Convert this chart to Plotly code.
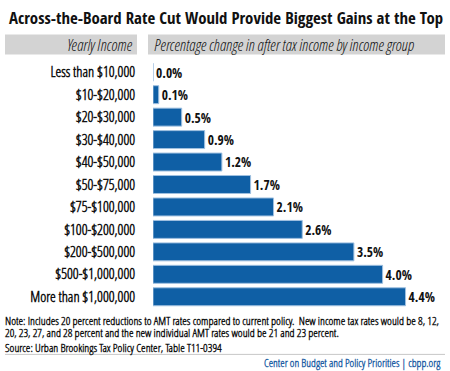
import plotly.graph_objects as go

categories = ["Less than $10,000", "$10-$20,000", "$20-$30,000", "$30-$40,000",
              "$40-$50,000", "$50-$75,000", "$75-$100,000", "$100-$200,000",
              "$200-$500,000", "$500-$1,000,000", "More than $1,000,000"]
values = [0.0, 0.1, 0.5, 0.9, 1.2, 1.7, 2.1, 2.6, 3.5, 4.0, 4.4]

title = "Across-the-Board Rate Cut Would Provide Biggest Gains at the Top"
header_left = "Yearly Income"
header_right = "Percentage change in after tax income by income group"
note_lines = ["Note: Includes 20 percent reductions to AMT rates compared to current policy.  New income tax rates would be 8, 12,",
              "20, 23, 27, and 28 percent and the new individual AMT rates would be 21 and 23 percent."]
source = "Source: Urban Brookings Tax Policy Center, Table T11-0394"
credit = "Center on Budget and Policy Priorities | cbpp.org"

BOLD = "Open Sans Condensed, Liberation Sans Narrow, sans-serif"
LIGHT = "Open Sans Condensed Light, Liberation Sans Narrow, sans-serif"
W, H = 450, 371
PW, PH, T, B = 297, 247.5, 60.5, 63


def py(ypx):
    """paper y from pixel y measured from top"""
    return (H - B - ypx) / PH


def px(xpx):
    return (xpx - 153) / PW


fig = go.Figure(go.Bar(
    x=values, y=categories, orientation="h",
    marker=dict(color="#0f5fa5", line=dict(color="#9fc0e0", width=1)),
    width=0.8,
    texttemplate="%{x:.1f}%", textposition="outside",
    textfont=dict(family=BOLD, size=15, color="#111111", weight="bold"),
    cliponaxis=False, hoverinfo="skip",
))

note_anns = [
    dict(text=line, xref="paper", yref="paper", align="left", borderpad=0,
         x=px(4), y=py(321.5 + i * 12), xanchor="left", yanchor="middle",
         showarrow=False, font=dict(family=LIGHT, size=11.6, color="#111111", weight="bold"))
    for i, line in enumerate(note_lines)
]

fig.update_layout(
    width=W, height=H,
    margin=dict(l=153, r=0, t=T, b=B, autoexpand=False),
    paper_bgcolor="white", plot_bgcolor="white",
    showlegend=False,
    font=dict(family=LIGHT, color="#111111"),
    xaxis=dict(range=[0, PW / 57.4], visible=False, fixedrange=True),
    yaxis=dict(autorange="reversed", showgrid=False, zeroline=False, showline=False,
               automargin=False, fixedrange=True,
               ticks="outside", ticklen=14, tickcolor="rgba(0,0,0,0)",
               tickfont=dict(family=LIGHT, size=14.6, color="#111111", weight="bold")),
    shapes=[
        dict(type="rect", xref="paper", yref="paper", layer="below",
             x0=px(5), x1=px(137), y0=py(54), y1=py(34),
             fillcolor="#d3d3d3", line=dict(width=0)),
        dict(type="rect", xref="paper", yref="paper", layer="below",
             x0=px(148), x1=px(445), y0=py(54), y1=py(34),
             fillcolor="#d3d3d3", line=dict(width=0)),
        dict(type="line", xref="paper", yref="paper",
             x0=px(5), x1=px(445), y0=py(354.5), y1=py(354.5),
             line=dict(color="#c8c8c8", width=1)),
    ],
    annotations=[
        dict(text=title, xref="paper", yref="paper",
             x=px(7), y=py(17), xanchor="left", yanchor="middle",
             showarrow=False, font=dict(family=BOLD, size=16.8, color="#111111", weight="bold")),
        dict(text=header_left, xref="paper", yref="paper",
             x=px(134), y=py(44), xanchor="right", yanchor="middle",
             showarrow=False, font=dict(family=LIGHT, size=16, color="#111111", style="italic")),
        dict(text=header_right, xref="paper", yref="paper",
             x=px(152), y=py(44), xanchor="left", yanchor="middle",
             showarrow=False, font=dict(family=LIGHT, size=16, color="#111111", style="italic")),
        *note_anns,
        dict(text=source, xref="paper", yref="paper", align="left", borderpad=0,
             x=px(4), y=py(348), xanchor="left", yanchor="middle",
             showarrow=False, font=dict(family=LIGHT, size=11.6, color="#111111", weight="bold")),
        dict(text=credit, xref="paper", yref="paper", align="right",
             x=px(443), y=py(363.5), xanchor="right", yanchor="middle",
             showarrow=False, font=dict(family=LIGHT, size=11.2, color="#1f5fa5", weight="bold")),
    ],
)

fig.write_html("out.html", config={"displayModeBar": False, "staticPlot": True},
               post_script="document.body.style.margin='0px';")
